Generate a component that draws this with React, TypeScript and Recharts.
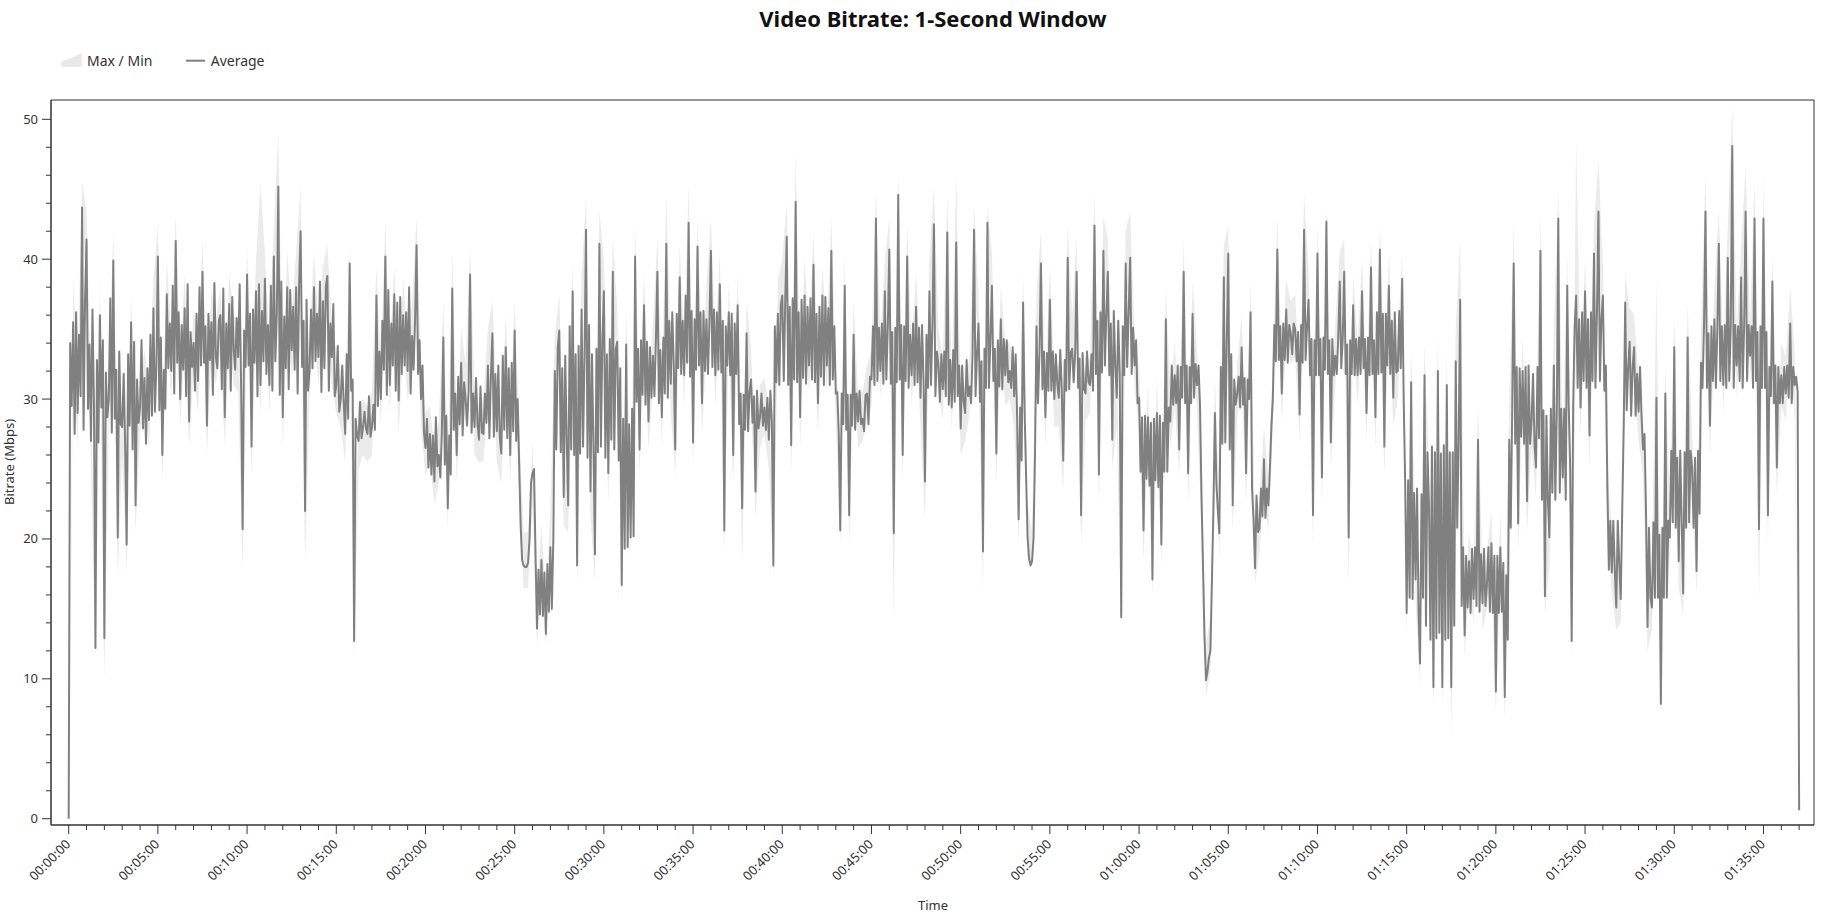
import React from "react";
import { ComposedChart, Area, Line, XAxis, YAxis, ReferenceArea } from "recharts";

// Average bitrate, one reading every 5 seconds (Mbps)
const AVG_STEP_SECONDS = 5;
const averageMbps: number[] = [
  0, 34, 29.5, 35.5, 27.5, 36.2, 29, 34.6, 30.2, 43.7, 27.8, 37.1, 41.4, 29.3, 33.9,
  27, 36.4, 29.6, 12.2, 32.8, 26.9, 36, 29.4, 34.2, 12.9, 31.9, 28.7, 30, 37.2, 27.6,
  39.9, 28.6, 32.1, 20.1, 33.4, 28.2, 28, 31.8, 26.6, 19.6, 33.2, 28.1, 35.5, 26.4, 34.1,
  22.4, 31.4, 28.3, 29.5, 34.2, 27.9, 31.5, 26.8, 32.2, 28.5, 34.6, 28.8, 36.5, 29.1, 32.4,
  40.2, 29.2, 34.4, 26, 32.1, 29.3, 37.5, 32.2, 35.4, 32, 38.1, 30.4, 41.3, 32.6, 36.2,
  30, 35.3, 32.1, 36.5, 30.2, 38.2, 28.4, 34.8, 32.3, 34, 30.6, 36.1, 31.3, 38, 32.4,
  39.1, 32.6, 35.2, 28.1, 36.1, 32.8, 35.5, 30.3, 38.3, 33, 32.2, 35.6, 36, 30.7, 37.9,
  28.7, 35.4, 32.2, 36.8, 30.6, 37.3, 33.5, 32.1, 35.8, 33, 38.2, 30.7, 20.7, 34.9, 32.3,
  38.9, 32.4, 36.1, 26.6, 36.4, 32.6, 37.7, 30.2, 38.2, 31, 36.3, 32.7, 38.6, 31.8, 35.3,
  31, 38.1, 30.6, 40.2, 32.7, 36.1, 45.2, 30.3, 38.4, 28.7, 35.9, 32.2, 38, 30.7, 37.8,
  33.5, 36.6, 32.1, 38, 30.4, 38.2, 42, 32.3, 35.6, 22, 37.1, 30.6, 32, 36.4, 32.2,
  38, 32.7, 36.1, 33, 38.4, 30.5, 37, 32.2, 38.1, 38.8, 30.6, 35.4, 33, 36.8, 30.2,
  31, 33.8, 29.1, 30, 32.4, 29.8, 27.5, 33.2, 28.6, 39.7, 30.6, 31.4, 12.7, 28.6, 27.4,
  27, 29.8, 27.2, 28, 29.1, 27.9, 27.5, 30.2, 27.3, 28, 29.6, 27.8, 37.4, 29.5, 33.4,
  30, 35.6, 32.1, 40.2, 30.3, 37.8, 31, 35.4, 32.4, 37.5, 30.6, 36.9, 29.9, 37.3, 31.8,
  36, 32.4, 36.2, 32, 38, 30.4, 34.5, 32.1, 35.7, 41, 31.8, 34.2, 30, 32.4, 27.6,
  26.5, 28.6, 25.1, 27.5, 24.6, 27.4, 24.1, 28.7, 25.2, 26, 24.4, 27.6, 34.4, 25.3, 28.8,
  22.2, 27.4, 24.6, 37.9, 27.8, 30.4, 26, 31.6, 28.2, 32.6, 27.4, 31.2, 30, 28.1, 30.6,
  38.9, 27.6, 30.4, 28, 31.5, 28.2, 27.1, 30.9, 27.6, 27.5, 30.4, 28.3, 32.4, 27.2, 31.6,
  34.7, 27.3, 31.8, 27.7, 32.4, 27.2, 26.1, 33.1, 27.8, 33.7, 27.2, 32.2, 26, 32.6, 27.7,
  34.9, 27, 30, 25.4, 21, 18.5, 18.1, 18, 18, 18.3, 20, 24, 24.7, 25, 19,
  13.6, 17.8, 14.6, 18.5, 14.5, 17.6, 13.2, 18.2, 14.8, 19.4, 15, 20, 32, 26.4, 33.7,
  34.9, 26.2, 32.2, 23, 33.1, 27, 22.4, 35.2, 26.4, 37.7, 26, 33.2, 18.1, 33.8, 26.1,
  36.4, 26.6, 33.3, 42.1, 25.8, 35.3, 23.4, 33.2, 26.6, 18.9, 33.6, 26.2, 41.1, 26.6, 34.2,
  37.7, 25.8, 33.2, 24.7, 34.3, 27.1, 39.1, 26.4, 33.6, 34.1, 25.6, 32.2, 16.7, 28.6, 19.3,
  33.9, 19.4, 28.2, 20.1, 29.3, 20.2, 40.2, 29.8, 33.6, 26.4, 34.2, 30.3, 36.7, 29.6, 34.1,
  28.4, 33.7, 30.1, 33.1, 30.2, 34.3, 39.1, 29.7, 33.5, 28.7, 34.4, 30.4, 41.1, 30.1, 35.6,
  31.1, 36.2, 32.4, 26.4, 36.1, 32.2, 38.7, 31.8, 35.6, 31.7, 37.4, 32.6, 42.6, 31.6, 36.3,
  26.9, 35.7, 32.1, 40.9, 32.4, 36.2, 29.7, 36.3, 32, 35.7, 31.8, 35.5, 40.6, 32.3, 36.4,
  31.7, 36.2, 32.1, 38.2, 31.9, 35.6, 20.6, 35.2, 32.4, 36.2, 31.7, 36.1, 26, 35.4, 31.8,
  36.7, 28.2, 30.4, 22.2, 30.3, 27.8, 34.7, 27.7, 30.5, 31.4, 28.3, 30.2, 23.4, 30.6, 27.9,
  28.7, 30.4, 28.1, 29.4, 27.8, 30.1, 27.1, 30.6, 28.4, 18.1, 35.2, 31.2, 36.1, 31, 36.7,
  37.4, 31.3, 37.1, 41.6, 31, 36.6, 26.7, 37.2, 31.4, 44.1, 31.2, 36.2, 28.7, 37.1, 31.5,
  37.4, 31.1, 36.6, 32.4, 37.2, 31.4, 39.6, 31.2, 36.1, 29.7, 36.6, 31.6, 37.4, 31, 37.3,
  32.4, 36.5, 31, 40.6, 31.4, 35.2, 30.4, 30.5, 27.6, 20.6, 30.4, 28.2, 38.1, 27.8, 30.3,
  21.7, 30.3, 28.1, 34.6, 27.8, 30.4, 28.4, 30.6, 28.2, 28.6, 27.7, 30.3, 30.4, 28.2, 31.6,
  31.4, 35.2, 31, 42.9, 31.3, 35.1, 32, 35.4, 31.1, 37.7, 31.4, 35.2, 40.7, 31.1, 34.8,
  20.4, 35.1, 31.2, 44.6, 31.4, 35.3, 26, 35.2, 31.3, 40.2, 30.8, 34.6, 31.7, 35.4, 31,
  36.6, 31.2, 35.1, 30.1, 35.3, 31.4, 24.1, 34.6, 30.8, 37.7, 31, 35.2, 42.5, 30.2, 33.4,
  32.5, 29.8, 33.2, 30.7, 33.4, 30.2, 41.9, 29.6, 32.8, 29.4, 33.5, 29.8, 41.2, 30.2, 32.4,
  27.9, 32.4, 29.8, 29, 32.8, 30.2, 30.9, 29.7, 33.3, 42.1, 30.2, 33.2, 35.4, 29.8, 32.7,
  19.1, 33.6, 30.8, 42.6, 30.8, 34.2, 38.1, 31.3, 33.6, 26.1, 34.2, 30.9, 35.7, 30.7, 34.3,
  31.7, 34.2, 31.2, 32, 30.8, 33.7, 30.2, 33.2, 28.6, 21.4, 29.4, 25.6, 36.9, 29.2, 24.5,
  20.1, 18.6, 18.1, 18.4, 20, 26, 35.2, 29.7, 33.3, 39.7, 30.7, 33.4, 28.7, 33.3, 30.6,
  37.1, 30.6, 33.4, 30, 33.2, 31.1, 30.1, 33.5, 30.7, 25.6, 32.8, 30.6, 40.1, 30.7, 33.3,
  33.6, 31.2, 33.3, 39.1, 30.8, 32.9, 21.7, 33.3, 30.7, 30.4, 33.4, 31.2, 31, 33.2, 30.6,
  42.4, 31.8, 35.6, 24.6, 36.2, 31.9, 40.6, 32.4, 36.1, 39.1, 31.7, 35.4, 27.1, 36.3, 32.4,
  30.1, 35.6, 31.8, 14.4, 35.2, 31.7, 39.7, 32.3, 36.2, 40.1, 31.8, 35.1, 32.4, 34.2, 29.7,
  30.1, 24.8, 28.7, 20.6, 28.8, 24.3, 28.7, 23.8, 28.3, 17.1, 28.6, 24.2, 29, 23.7, 28.8,
  19.6, 28.3, 24.8, 35.7, 24.8, 29.4, 28.4, 32.4, 29.6, 31.7, 29.7, 32.4, 26.4, 32.3, 30.1,
  39.1, 29.7, 32.4, 24.7, 32.3, 29.7, 36.1, 30.1, 32.5, 31, 32.4, 29.5, 23, 18, 13,
  9.9, 10.5, 11.5, 12, 17, 22, 29, 24, 22, 20.4, 32.3, 26.8, 38.7, 26.9, 34.2,
  40.4, 26.4, 33.2, 22.4, 31.4, 29.6, 30.4, 31.6, 29.4, 33.7, 29.6, 31.5, 24.7, 31.4, 30,
  36.2, 23.6, 21.4, 17.9, 23.1, 20.5, 20.7, 23.6, 21.6, 25.7, 21.5, 23.6, 22.4, 25, 28,
  30.1, 35.3, 32.7, 40.7, 32.8, 35.2, 30.4, 35.4, 32.8, 36.4, 32.6, 35.3, 34.7, 33.2, 35.4,
  35, 32.7, 34.8, 28.9, 35.3, 32.6, 42.1, 32.8, 35.2, 37.1, 31.7, 34.3, 21.7, 34.2, 31.7,
  40.4, 31.7, 34.3, 24.4, 34.4, 32.1, 42.7, 31.8, 34.2, 26.9, 34.3, 31.7, 33.1, 31.8, 34.4,
  38.4, 32.2, 34.3, 39.1, 31.8, 33.9, 20.1, 34.2, 31.8, 36.7, 31.7, 34.3, 31.7, 34.4, 31.8,
  37.7, 32.2, 34.3, 29, 34.4, 31.7, 39.4, 31.8, 34.2, 28.7, 36.2, 31.8, 40.7, 31.9, 36.1,
  26.6, 36.1, 32.4, 38.1, 31.8, 35.6, 30.1, 36.2, 31.9, 32, 36.3, 32.2, 38.6, 30, 24,
  14.7, 24.2, 15.8, 31.2, 15.7, 23.3, 17.1, 23.6, 14.8, 11.1, 23.2, 15.8, 31.7, 13.8, 26.2,
  22.4, 12.8, 26.6, 9.4, 26.2, 12.9, 32, 13.3, 26.1, 9.4, 26.7, 12.8, 31, 12.9, 26.2,
  9.4, 26.2, 13.8, 32.7, 20.8, 27.2, 37.1, 15.2, 19.4, 13.1, 18.8, 15.1, 18.4, 14.7, 19.3,
  15.7, 19.4, 15.2, 27.1, 14.8, 18.9, 15.4, 19.3, 15.2, 16.7, 19.4, 14.8, 19.7, 14.7, 18.8,
  9.1, 18.8, 14.7, 19.4, 14.8, 18.3, 8.7, 17.4, 12.8, 27.1, 20.8, 29.3, 39.7, 26.8, 32.3,
  21.1, 32.2, 27.3, 32, 26.8, 32.3, 22.7, 32.4, 26.8, 28.4, 31.8, 26.8, 25.1, 32.3, 27.2,
  40.6, 22.8, 29.2, 15.9, 28.8, 22.8, 20.1, 29.3, 23.3, 32.4, 22.8, 29.2, 42.9, 23.3, 29.3,
  24.4, 29.3, 22.8, 38.1, 29.6, 25, 12.7, 29.6, 35.2, 37.4, 30.8, 35.7, 29.4, 36.2, 31.3,
  37.7, 30.8, 35.7, 27.4, 36.2, 31.3, 40.4, 30.8, 36.2, 43.4, 31.3, 35.7, 37.4, 30.6, 32.4,
  23.7, 17.8, 21.3, 17.6, 21.3, 17.8, 15.1, 21.3, 18.2, 15.7, 22, 28, 36.9, 29.2, 32.3,
  34.1, 28.8, 32.3, 33.7, 28.8, 31.8, 29.1, 32.3, 28.8, 26.4, 27.5, 22, 13.7, 20.8, 15.8,
  15.1, 21.2, 15.8, 30.1, 15.8, 20.3, 8.2, 20.8, 15.8, 30.4, 15.8, 21.3, 20.1, 26.3, 21.2,
  33.7, 20.8, 25.8, 18.4, 26.3, 21.2, 16.1, 26.2, 20.8, 34.4, 21.2, 26.3, 25.1, 20.8, 25.8,
  17.7, 26.3, 21.8, 32.6, 30.8, 35.2, 43.4, 30.8, 34.7, 28.1, 35.2, 31.3, 35.7, 30.8, 35.2,
  41.1, 31.3, 35.2, 31, 35.3, 30.8, 40.1, 31.3, 35.2, 48.1, 30.8, 35.3, 32.4, 35.2, 31.3,
  38.7, 30.8, 35.2, 43.4, 31.3, 35.3, 33.1, 35.2, 30.8, 42.9, 31.3, 34.8, 20.7, 35.2, 30.8,
  42.9, 30.8, 34.8, 21.7, 32.3, 30.2, 38.4, 29.7, 32.4, 25.1, 32.3, 29.7, 31.7, 29.7, 32.3,
  30.4, 32.4, 30.1, 35.4, 29.7, 32.3, 31, 31.6, 30.5,
  0.6,
];

// Max / Min envelope, one reading every 15 seconds (Mbps)
const BAND_STEP_SECONDS = 15;
const maxMbps: number[] = [
  0.5, 38.5, 32, 45.5, 43.5, 30, 15, 38.5, 15.5, 32.5, 42, 23, 30.5, 22, 37.5, 24.5, 31.5, 33.5, 31, 38.5,
  42.5, 28.5, 40, 34.5, 43.2, 32.5, 39, 30.5, 36.5, 33.5, 41.5, 30.5, 38, 35.5, 38, 31, 39, 36, 35.5, 23,
  41, 29, 40, 45.4, 40.5, 33.5, 42.5, 49.1, 31, 40.5, 36, 40.5, 45.2, 24.5, 34.5, 40.5, 35.5, 39.5, 41, 35.5,
  33.5, 32, 29.5, 41, 15, 29.5, 30, 29.5, 30.5, 39.5, 32.5, 42.7, 33.5, 39.5, 32, 38.5, 34.5, 37, 43, 32.5,
  29, 29.5, 26.5, 28.5, 37, 25, 40.5, 28.5, 35, 32.5, 40.9, 30.5, 29.5, 30, 35, 37, 30, 28.5, 36, 28.5,
  37, 28, 20.5, 20.5, 27, 16, 21, 15.5, 22, 34.5, 37.5, 25.5, 24.5, 40, 20.5, 39, 44.4, 26, 21, 43.5,
  40, 27, 41.5, 36.5, 19, 36.5, 22.5, 42.5, 28.5, 39, 30.5, 35.5, 41.5, 31, 44.6, 33.5, 28.5, 41, 34, 45.4,
  29.5, 43, 32, 38, 43, 34, 40.5, 23, 38.5, 28.5, 39, 24.5, 37, 33.5, 25.5, 31, 31.5, 29.5, 20.5, 38.5,
  40, 44, 29, 47.6, 31, 40, 34.5, 42, 32, 39.5, 34.5, 43, 32.5, 23, 40.5, 24, 37, 30.5, 30.5, 32.5,
  33.5, 45, 34.5, 40, 43, 23, 46.1, 28.5, 42.5, 34, 39, 32.5, 26.5, 40, 45.2, 35, 33, 44.5, 31.5, 46.1,
  30, 31, 33, 43.9, 37.5, 21.5, 43.7, 40.5, 28.5, 38, 34, 34, 32.5, 24, 39, 22.5, 20.5, 37.5, 42, 31,
  39.5, 32, 32.5, 28, 42.5, 36, 41.5, 24, 32.5, 33, 44.7, 27, 43, 41.5, 29.5, 32.5, 16.5, 42, 43.4, 34.5,
  32.5, 23, 31, 19.5, 31.5, 22, 38, 30.5, 34, 28.5, 41.5, 27, 38.5, 33.5, 25.5, 12.5, 14.5, 31.5, 23, 41,
  42.4, 24.5, 32.5, 36, 27, 38.5, 20.5, 23, 28, 24.5, 32.5, 43, 32.5, 38.5, 37, 37.5, 31, 44.6, 39.5, 24,
  42.5, 26.5, 43.7, 29, 35.5, 40.5, 41.5, 22.5, 39, 34, 40, 31, 41.5, 31, 42.4, 29, 40.5, 32.5, 34.5, 40.5,
  17, 33.5, 19.5, 13.5, 34, 25, 11.5, 34.5, 11.5, 33.5, 11.5, 35, 41.4, 15.5, 20.5, 18, 29.5, 17.5, 19, 22,
  11.5, 22, 11, 29.5, 42.7, 23.5, 34.5, 25, 30.5, 27.5, 43.2, 18, 22.5, 35, 45, 26.5, 40.5, 15, 48.7, 31.5,
  40, 30, 42.5, 47.1, 39.5, 26, 20, 17.5, 18, 39, 36.5, 36, 31.5, 28.5, 16, 17.5, 38.7, 10.5, 32.5, 22.5,
  36, 20.5, 18.5, 37, 27.5, 20, 35, 46.1, 30.5, 38, 43.5, 33.5, 42.5, 50.9, 35, 41, 46.6, 35.5, 45.7, 23,
  45.9, 24, 40.5, 27.5, 34, 33, 38, 33.5, 1,
];
const minMbps: number[] = [
  0, 33, 26.5, 41, 39, 25, 11.4, 33.5, 9.9, 28, 37.5, 17.2, 26, 17.5, 33, 20.5, 27.5, 29.5, 26.5, 34,
  37.5, 24, 35, 30, 38.5, 28, 34, 26.5, 32, 29, 36.5, 26, 33, 31, 33.5, 26.5, 34.5, 31, 30.5, 17.7,
  36.5, 24.5, 35.5, 29, 36, 29, 38, 42.5, 26.5, 35.5, 31.5, 35.5, 39.5, 18.2, 30, 35.5, 31, 34.5, 36, 31,
  29, 28, 25.5, 37, 11.4, 25, 26, 25.5, 26, 35, 28, 38, 29, 35, 27.5, 33.5, 30, 32, 38.5, 28,
  24.5, 25.5, 22.5, 24, 32, 20.5, 35.5, 24, 30.5, 28, 36.5, 26, 25.5, 25.5, 30, 32.5, 25.5, 24, 31.5, 24,
  32.5, 23.5, 16.5, 16.5, 22.5, 12.4, 16.5, 12.4, 17.5, 29.5, 32.5, 21, 20.5, 35, 16.7, 34, 39.5, 21.5, 17, 38.5,
  35.5, 22.5, 37, 32, 15.2, 31.5, 18.5, 38, 24.5, 34.5, 26.5, 31, 37, 26.5, 38.5, 29, 24.5, 36.5, 29.5, 40,
  25, 38.5, 27.5, 33.5, 38, 29.5, 36, 19.2, 34, 24, 34.5, 18.1, 32.5, 29.5, 21.5, 26.5, 27.5, 25, 17.2, 34,
  35, 39, 24.5, 41, 26.5, 35, 30.5, 37, 27.5, 35, 30.5, 38, 28.5, 19.7, 35.5, 19.5, 32.5, 26.5, 27, 28.5,
  29.5, 40, 30, 35.5, 38, 14.1, 42, 24, 38, 29.5, 34.5, 28, 21.2, 35.5, 40, 30.5, 28.5, 39.5, 27.5, 38.5,
  26, 27, 29, 39.5, 33, 16.2, 40, 35.5, 24, 33.5, 29.5, 30, 28, 19.5, 34.5, 18.5, 18.1, 33, 37.5, 26.5,
  35, 28, 28, 23.5, 37.5, 31.5, 37, 19.4, 28.5, 29, 40, 22.5, 38, 37, 25, 28, 13.7, 37.5, 38, 30.5,
  28, 18.5, 26.5, 16, 27, 18, 33.5, 26.5, 29.5, 24.5, 37, 22.5, 34, 29, 21, 8.7, 10.5, 27, 18.5, 36.5,
  38, 20.5, 28.5, 31.5, 22.5, 34, 16.7, 19, 23.5, 20.5, 28, 38.5, 28.5, 34, 32.5, 33, 27, 39.5, 35, 19.5,
  38, 22.5, 40, 25, 31, 36, 37, 16.7, 34.5, 29.5, 35.5, 27, 37, 26.5, 38.5, 24.5, 36, 28, 30, 36.5,
  13, 29, 15.5, 9.5, 29.5, 20.5, 8, 30, 8, 29, 5.9, 30.5, 35, 11.5, 16.5, 14, 25, 13.5, 15, 17.5,
  7.5, 17.5, 7.1, 25, 37, 19, 30, 20.5, 26.5, 23, 38, 14.5, 18, 30, 40.5, 22.5, 36, 11.7, 35, 27.5,
  35.5, 25, 38, 41, 35, 21.5, 16, 13.5, 14, 34.5, 32, 31.5, 27, 24.5, 12, 13.5, 28, 7.5, 28.5, 18,
  31.5, 16.5, 14.5, 32, 23, 16, 30.5, 41, 26, 33.5, 38.5, 29, 38, 45.5, 30, 36.5, 41, 31, 40.5, 15.4,
  40.5, 19.5, 36, 23, 29.5, 28.5, 33, 28.5, 0.6,
];

// axis ticks: one every minute (labelled every 5 min), one every 2 Mbps (labelled every 10)
const xTickSeconds: number[] = Array.from({ length: 98 }, (_, k) => k * 60);
const yTickValues: number[] = Array.from({ length: 26 }, (_, k) => k * 2);

const X_DOMAIN: [number, number] = [-59.5, 5870];
const Y_DOMAIN: [number, number] = [-0.45, 51.38];

const FONT = '"Noto Sans", "Open Sans", sans-serif';
const AXIS_COLOR = "#333333";

const lineRows = averageMbps.map((avg, i) => ({ t: i * AVG_STEP_SECONDS, avg }));
const bandRows = maxMbps.map((mx, i) => ({
  t: i * BAND_STEP_SECONDS,
  band: [minMbps[i] ?? mx, mx],
}));

function pad(n: number) {
  return n < 10 ? "0" + n : String(n);
}
function formatTime(sec: number) {
  const h = Math.floor(sec / 3600);
  const m = Math.floor((sec % 3600) / 60);
  const s = Math.floor(sec % 60);
  return `${pad(h)}:${pad(m)}:${pad(s)}`;
}

function XTick(props: any) {
  const { x, y, payload } = props;
  const v = payload.value as number;
  const major = v % 300 === 0;
  return (
    <g>
      <line x1={x} y1={y} x2={x} y2={y + (major ? 9 : 5)} stroke={AXIS_COLOR} strokeWidth={1} />
      {major && (
        <text
          x={0}
          y={0}
          transform={`translate(${x + 2.5},${y + 20}) rotate(-45)`}
          textAnchor="end"
          fontSize={13}
          fontFamily={FONT}
          fill={AXIS_COLOR}
        >
          {formatTime(v)}
        </text>
      )}
    </g>
  );
}

function YTick(props: any) {
  const { x, y, payload } = props;
  const v = payload.value as number;
  const major = v % 10 === 0;
  return (
    <g>
      <line x1={x - (major ? 9 : 5)} y1={y} x2={x} y2={y} stroke={AXIS_COLOR} strokeWidth={1} />
      {major && (
        <text x={x - 13} y={y} dy="0.35em" textAnchor="end" fontSize={13} fontFamily={FONT} fill={AXIS_COLOR}>
          {v}
        </text>
      )}
    </g>
  );
}

export default function App() {
  return (
    <div style={{ position: "absolute", left: 0, top: 0, width: 1845, height: 918, background: "#ffffff" }}>
      <ComposedChart width={1845} height={918} margin={{ top: 100, right: 31, bottom: 0, left: 0 }}>
        <XAxis
          dataKey="t"
          type="number"
          domain={X_DOMAIN}
          allowDataOverflow
          ticks={xTickSeconds}
          interval={0}
          tick={<XTick />}
          tickLine={false}
          tickSize={0}
          tickMargin={0}
          height={93}
          axisLine={{ stroke: AXIS_COLOR }}
        />
        <YAxis
          type="number"
          domain={Y_DOMAIN}
          allowDataOverflow
          ticks={yTickValues}
          interval={0}
          tick={<YTick />}
          tickLine={false}
          tickSize={0}
          tickMargin={0}
          width={51}
          axisLine={{ stroke: AXIS_COLOR }}
        />
        <Area
          data={bandRows}
          dataKey="band"
          type="linear"
          stroke="none"
          fill="#ebebeb"
          fillOpacity={1}
          dot={false}
          activeDot={false}
          isAnimationActive={false}
        />
        <Line
          data={lineRows}
          dataKey="avg"
          type="linear"
          stroke="#808080"
          strokeWidth={2}
          strokeLinejoin="round"
          dot={false}
          activeDot={false}
          isAnimationActive={false}
        />
        <ReferenceArea
          x1={X_DOMAIN[0]}
          x2={X_DOMAIN[1]}
          y1={Y_DOMAIN[0]}
          y2={Y_DOMAIN[1]}
          fill="none"
          fillOpacity={0}
          stroke={AXIS_COLOR}
          strokeWidth={1}
          ifOverflow="visible"
        />
      </ComposedChart>
      <svg width={1845} height={918} style={{ position: "absolute", left: 0, top: 0, pointerEvents: "none" }}>
        <text x={933} y={27} textAnchor="middle" fontSize={22} fontWeight={700} fontFamily={FONT} fill="#111111">
          Video Bitrate: 1-Second Window
        </text>
        <path d="M61.5,66.7 L61.5,61.5 C68,59.5 75,56.5 81.7,53.3 L81.7,66.7 Z" fill="#e8e8e8" />
        <text x={87} y={66} fontSize={14} fontFamily={FONT} fill={AXIS_COLOR}>
          Max / Min
        </text>
        <line x1={186} y1={60.7} x2={205} y2={60.7} stroke="#808080" strokeWidth={2} />
        <text x={210.7} y={66} fontSize={14} fontFamily={FONT} fill={AXIS_COLOR}>
          Average
        </text>
        <text
          x={0}
          y={0}
          transform="translate(14,462) rotate(-90)"
          textAnchor="middle"
          fontSize={13}
          fontFamily={FONT}
          fill={AXIS_COLOR}
        >
          Bitrate (Mbps)
        </text>
        <text x={933} y={910} textAnchor="middle" fontSize={13} fontFamily={FONT} fill={AXIS_COLOR}>
          Time
        </text>
      </svg>
    </div>
  );
}
